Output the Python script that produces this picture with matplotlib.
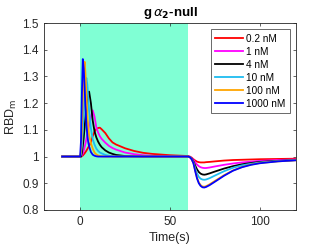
import matplotlib
matplotlib.use("Agg")
import matplotlib.pyplot as plt
from matplotlib.ticker import FormatStrFormatter

plt.rcParams['font.family'] = ['Liberation Sans', 'DejaVu Sans']

# time grid (s)
t = [-10, 0, 0.5, 1, 1.5, 2, 2.5, 3, 3.5, 4, 4.5, 5, 6, 7, 8, 9, 10, 11, 12, 14, 16, 18, 20,
     25, 30, 35, 40, 50, 60, 61, 62, 63, 64, 65, 66, 67, 68, 69, 70, 72, 75, 80, 85, 90, 95,
     100, 110, 120]

labels = ["0.2 nM", "1 nM", "4 nM", "10 nM", "100 nM", "1000 nM"]
colors = ["#ff0000", "#ff00ff", "#000000", "#1ebcf0", "#ffa500", "#0000ff"]

rbd_02 = [1, 1, 1.0, 1.002, 1.004, 1.008, 1.012, 1.017, 1.022, 1.028, 1.034, 1.04, 1.055, 1.077,
          1.093, 1.103, 1.107, 1.108, 1.102, 1.088, 1.068, 1.053, 1.045, 1.031, 1.021, 1.014,
          1.01, 1.005, 1.002, 1.0, 0.996, 0.99, 0.985, 0.981, 0.979, 0.978, 0.978, 0.978, 0.979,
          0.98, 0.982, 0.985, 0.987, 0.988, 0.989, 0.99, 0.991, 0.992]
rbd_1 = [1, 1, 1.0, 1.005, 1.012, 1.022, 1.035, 1.05, 1.065, 1.082, 1.1, 1.118, 1.15, 1.173,
         1.15, 1.11, 1.09, 1.076, 1.066, 1.052, 1.04, 1.032, 1.026, 1.015, 1.009, 1.005, 1.003,
         1.001, 1.0, 0.999, 0.995, 0.988, 0.978, 0.97, 0.964, 0.96, 0.958, 0.957, 0.957, 0.959,
         0.963, 0.969, 0.974, 0.978, 0.981, 0.984, 0.987, 0.989]
rbd_4 = [1, 1, 1.0, 1.015, 1.04, 1.07, 1.11, 1.15, 1.19, 1.22, 1.238, 1.243, 1.2, 1.135, 1.095,
         1.072, 1.056, 1.044, 1.035, 1.023, 1.015, 1.01, 1.006, 1.002, 1.001, 1.0, 1.0, 1.0,
         1.0, 0.998, 0.993, 0.982, 0.966, 0.952, 0.942, 0.936, 0.933, 0.932, 0.933, 0.937,
         0.944, 0.955, 0.964, 0.971, 0.976, 0.98, 0.984, 0.987]
rbd_10 = [1, 1, 1.01, 1.04, 1.1, 1.17, 1.24, 1.28, 1.294, 1.27, 1.22, 1.17, 1.105, 1.065, 1.045,
          1.03, 1.021, 1.015, 1.012, 1.006, 1.003, 1.001, 1.0, 1.0, 1.0, 1.0, 1.0, 1.0, 1.0,
          0.998, 0.991, 0.978, 0.956, 0.937, 0.924, 0.917, 0.914, 0.913, 0.914, 0.919, 0.929,
          0.945, 0.958, 0.967, 0.973, 0.978, 0.983, 0.987]
rbd_100 = [1, 1, 1.02, 1.1, 1.22, 1.32, 1.355, 1.31, 1.23, 1.16, 1.11, 1.08, 1.05, 1.03, 1.015,
           1.008, 1.004, 1.002, 1.001, 1.0, 1.0, 1.0, 1.0, 1.0, 1.0, 1.0, 1.0, 1.0, 1.0, 0.998,
           0.99, 0.976, 0.948, 0.921, 0.903, 0.893, 0.888, 0.887, 0.889, 0.896, 0.909, 0.93,
           0.948, 0.961, 0.97, 0.976, 0.982, 0.986]
rbd_1000 = [1, 1, 1.06, 1.24, 1.365, 1.33, 1.26, 1.18, 1.12, 1.08, 1.055, 1.038, 1.017, 1.007,
            1.003, 1.001, 1.0, 1.0, 1.0, 1.0, 1.0, 1.0, 1.0, 1.0, 1.0, 1.0, 1.0, 1.0, 1.0,
            0.998, 0.99, 0.975, 0.945, 0.918, 0.9, 0.89, 0.885, 0.884, 0.886, 0.893, 0.906,
            0.928, 0.947, 0.96, 0.969, 0.975, 0.982, 0.986]

series = [rbd_02, rbd_1, rbd_4, rbd_10, rbd_100, rbd_1000]

# stimulus window
stim_start = 0
stim_end = 60

fig = plt.figure(figsize=(3.27, 2.45), dpi=100)
ax = fig.add_axes([0.135, 0.143, 0.77, 0.763])

ax.axvspan(stim_start, stim_end, color="#80ffd4", lw=0, zorder=0)
for y, c, lab in zip(series, colors, labels):
    ax.plot(t, y, color=c, lw=1.3, label=lab)

ax.set_xlim(-20, 120)
ax.set_ylim(0.8, 1.5)
ax.set_xticks([0, 50, 100])
ax.set_yticks([0.8, 0.9, 1.0, 1.1, 1.2, 1.3, 1.4, 1.5])
ax.yaxis.set_major_formatter(FormatStrFormatter('%g'))
ax.tick_params(direction='in', length=2.5, width=0.5, labelsize=8.5, colors='#262626',
               top=True, right=True, pad=4)
for s in ax.spines.values():
    s.set_linewidth(0.6)
    s.set_color('#262626')

ax.set_xlabel("Time(s)", fontsize=9, color='#262626', labelpad=3)
ax.set_ylabel(r"RBD$_{\mathrm{m}}$", fontsize=9, color='#262626', labelpad=2)
ax.set_title(r"g$\,\alpha_{\mathbf{2}}$-null", fontsize=9.5, fontweight='bold', pad=5)

leg = ax.legend(loc='upper right', fontsize=7.2, frameon=True, fancybox=False,
                edgecolor='#262626', handlelength=2.8, handletextpad=0.3,
                labelspacing=0.3, borderpad=0.45, borderaxespad=0.6)
leg.get_frame().set_linewidth(0.6)

fig.savefig("out.png", dpi=100)
